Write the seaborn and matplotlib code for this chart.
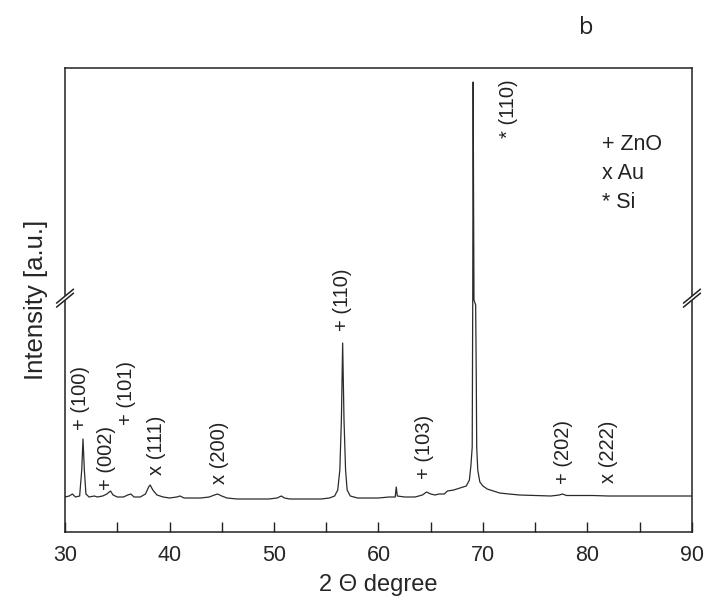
import pandas as pd
import seaborn as sns
import matplotlib.pyplot as plt

# 2-theta positions (degree) and intensity (a.u.)
two_theta = [30.0, 30.4, 30.7, 31.0, 31.4, 31.6, 31.72, 31.85, 32.0, 32.3,
             32.8, 33.1, 33.6, 34.0, 34.35, 34.6, 35.0, 35.6, 36.0, 36.3,
             36.6, 37.2, 37.7, 38.0, 38.15, 38.4, 38.8, 39.4, 40.0, 40.7,
             41.0, 41.4, 42.0, 43.0, 43.8, 44.3, 44.6, 45.0, 45.5, 46.5,
             47.5, 48.5, 49.5, 50.3, 50.7, 51.0, 51.5, 52.5, 53.5, 54.5,
             55.3, 55.8, 56.1, 56.3, 56.45, 56.57, 56.7, 56.85, 57.0, 57.3,
             58.0, 59.0, 60.0, 61.0, 61.6, 61.7, 61.8, 62.5, 63.5, 64.2,
             64.6, 65.0, 65.4, 65.8, 66.3, 66.6, 67.2, 67.8, 68.4, 68.7,
             68.85, 68.97, 69.02, 69.06, 69.10, 69.14, 69.30, 69.36, 69.40, 69.5,
             69.7, 70.0, 70.4, 71.0, 71.6, 72.5, 73.5, 75.0, 76.5, 77.3,
             77.6, 78.0, 79.0, 80.5, 82.0, 84.0, 86.0, 88.0, 90.0]
intensity = [3, 4, 6, 3, 4, 30, 61, 30, 6, 3,
             4, 3, 4, 6, 9, 5, 3, 3, 5, 6,
             3, 3, 6, 13, 15, 10, 5, 3, 2, 3,
             4, 2, 2, 2, 3, 5, 6, 4, 2, 1,
             1, 1, 1, 2, 4, 2, 1, 1, 1, 1,
             2, 4, 10, 30, 80, 157, 80, 30, 10, 4,
             2, 2, 2, 3, 3, 13, 4, 3, 3, 5,
             8, 6, 5, 6, 6, 9, 10, 12, 14, 20,
             35, 53, 200, 418, 300, 200, 195, 120, 53, 30,
             18, 14, 11, 9, 7, 6, 5, 4.5, 4, 5,
             6, 4.5, 4.5, 4.5, 4, 4, 4, 4, 4]

# peak labels: text, position, height of label base
peak_labels = ["+ (100)", "+ (002)", "+ (101)", "x (111)", "x (200)",
               "+ (110)", "+ (103)", "* (110)", "+ (202)", "x (222)"]
label_x = [31.5, 33.95, 35.9, 38.75, 44.8, 56.57, 64.4, 72.4, 77.75, 82.0]
label_y = [70, 10, 75, 25, 16, 169, 21, 362, 16, 17]

legend_lines = ["+ ZnO", "x Au", "* Si"]

df = pd.DataFrame({"two_theta": two_theta, "intensity": intensity})

sns.set_style("white")
plt.rcParams['font.family'] = ['Liberation Sans', 'DejaVu Sans']

fig = plt.figure(figsize=(7.06, 6.04), dpi=100)
ax = fig.add_axes([0.0921, 0.1192, 0.888, 0.7682])

sns.lineplot(data=df, x="two_theta", y="intensity", ax=ax,
             color="#2b2b2b", linewidth=0.9, estimator=None)

ax.set_xlim(30, 90)
ax.set_ylim(-32, 432)
ax.set_xticks([30, 40, 50, 60, 70, 80, 90])
ax.set_xticks([35, 45, 55, 65, 75, 85], minor=True)
ax.set_yticks([])
ax.tick_params(axis="x", which="both", direction="in", length=7, width=1,
               color="#222222", labelsize=15.5, pad=9, top=False, bottom=True)
for s in ax.spines.values():
    s.set_color("#222222")
    s.set_linewidth(1.1)

ax.set_xlabel("2 Θ degree", fontsize=17, labelpad=6)
ax.set_ylabel("Intensity [a.u.]", fontsize=18.5, labelpad=12)

for txt, x, y in zip(peak_labels, label_x, label_y):
    ax.text(x, y, txt, rotation=90, ha="center", va="bottom", fontsize=14.5,
            color="#222222")

ax.text(0.856, 0.858, "\n".join(legend_lines), transform=ax.transAxes,
        ha="left", va="top", fontsize=15.5, linespacing=1.5, color="#222222")

fig.text(0.831, 0.953, "b", fontsize=17, color="#222222",
         family=["Open Sans", "DejaVu Sans"], ha="center", va="center")

# axis break marks on both vertical spines
yb = 0.504
dx = 8.5 / 627
dy = 7.0 / 464
gap = 4.0 / 464
for xs in (0.0, 1.0):
    ax.plot([xs - 0.004, xs + 0.004], [yb, yb], transform=ax.transAxes,
            color="white", lw=3, clip_on=False, zorder=5)
    for off in (-gap / 2, gap / 2):
        ax.plot([xs - dx, xs + dx], [yb + off - dy, yb + off + dy],
                transform=ax.transAxes, color="#222222", lw=1.1,
                clip_on=False, zorder=6)

fig.savefig("out.png", dpi=100)
